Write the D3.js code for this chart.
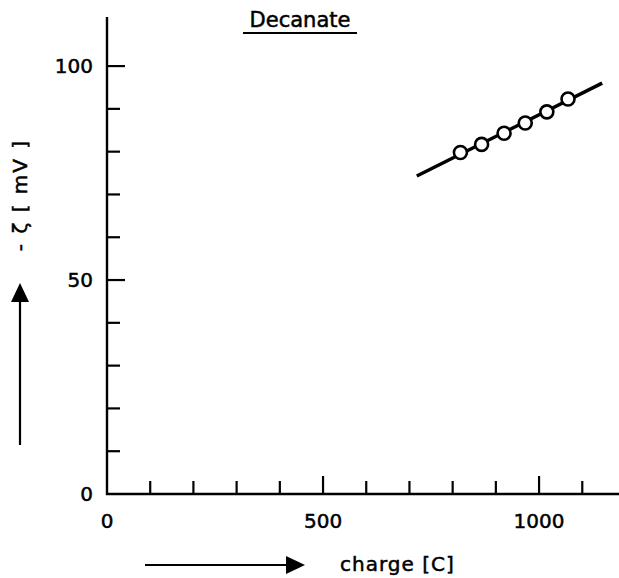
<!DOCTYPE html>
<html>
<head>
<meta charset="utf-8">
<script src="https://cdn.jsdelivr.net/npm/d3@7"></script>
<style>
  body { margin: 0; background: #fff; }
  text { font-family: "DejaVu Sans", sans-serif; fill: #000; stroke: #000; stroke-width: 0.5px; }
</style>
</head>
<body>
<svg id="chart" width="619" height="578"></svg>
<script>
// measured points (charge in C, -zeta in mV)
const charge = [818, 867, 919, 968, 1018, 1067];
const zeta = [79.8, 81.7, 84.3, 86.7, 89.3, 92.3];
// fitted line ends
const fitCharge = [717, 1146];
const fitZeta = [74.3, 96.0];

const xMajor = [500, 1000];
const xMinor = [100, 200, 300, 400, 600, 700, 800, 900, 1100];
const xLabels = [0, 500, 1000];
const yMajor = [50, 100];
const yMinor = [10, 20, 30, 40, 60, 70, 80, 90];
const yLabels = [0, 50, 100];

const svg = d3.select('#chart');

const x = d3.scaleLinear().domain([0, 1185]).range([107, 619]);
const y = d3.scaleLinear().domain([0, 111]).range([494, 19]);

const g = svg.append('g');

// axes lines
g.append('line')
    .attr('x1', x(0)).attr('x2', x(0))
    .attr('y1', y(0) + 1).attr('y2', y(111) - 2)
    .attr('stroke', '#000').attr('stroke-width', 2.4);
g.append('line')
    .attr('x1', x(0) - 1).attr('x2', 619)
    .attr('y1', y(0)).attr('y2', y(0))
    .attr('stroke', '#000').attr('stroke-width', 2.4);

// x ticks point up
g.selectAll('.xmaj').data(xMajor).join('line')
    .attr('x1', d => x(d)).attr('x2', d => x(d))
    .attr('y1', y(0)).attr('y2', y(0) - 18)
    .attr('stroke', '#000').attr('stroke-width', 2.2);
g.selectAll('.xmin').data(xMinor).join('line')
    .attr('x1', d => x(d)).attr('x2', d => x(d))
    .attr('y1', y(0)).attr('y2', y(0) - 13)
    .attr('stroke', '#000').attr('stroke-width', 2.2);

// y ticks point right
g.selectAll('.ymaj').data(yMajor).join('line')
    .attr('y1', d => y(d)).attr('y2', d => y(d))
    .attr('x1', x(0)).attr('x2', x(0) + 18)
    .attr('stroke', '#000').attr('stroke-width', 2.2);
g.selectAll('.ymin').data(yMinor).join('line')
    .attr('y1', d => y(d)).attr('y2', d => y(d))
    .attr('x1', x(0)).attr('x2', x(0) + 13)
    .attr('stroke', '#000').attr('stroke-width', 2.2);

// tick labels
g.selectAll('.xl').data(xLabels).join('text')
    .attr('x', d => x(d)).attr('y', 528)
    .attr('text-anchor', 'middle')
    .style('font-size', '20px')
    .text(d => d);
g.selectAll('.yl').data(yLabels).join('text')
    .attr('x', 93).attr('y', d => y(d) + 7)
    .attr('text-anchor', 'end')
    .style('font-size', '20px')
    .text(d => d);

// fitted line
g.append('line')
    .attr('x1', x(fitCharge[0])).attr('y1', y(fitZeta[0]))
    .attr('x2', x(fitCharge[1])).attr('y2', y(fitZeta[1]))
    .attr('stroke', '#000').attr('stroke-width', 3.5);

// data circles
g.selectAll('.pt').data(charge).join('circle')
    .attr('cx', d => x(d)).attr('cy', (d, i) => y(zeta[i]))
    .attr('r', 6.5)
    .attr('fill', '#fff').attr('stroke', '#000').attr('stroke-width', 2.6);

// title
svg.append('text')
    .attr('x', 300).attr('y', 27)
    .attr('text-anchor', 'middle')
    .style('font-size', '21px')
    .text('Decanate');
svg.append('line')
    .attr('x1', 243).attr('x2', 357).attr('y1', 33).attr('y2', 33)
    .attr('stroke', '#000').attr('stroke-width', 2);

// y label and arrow
svg.append('text')
    .attr('transform', 'translate(27,195) rotate(-90)')
    .attr('text-anchor', 'middle')
    .style('font-size', '20px').style('letter-spacing', '2px')
    .text('- ζ  [ mV ]');
svg.append('line')
    .attr('x1', 20).attr('x2', 20).attr('y1', 445).attr('y2', 298)
    .attr('stroke', '#000').attr('stroke-width', 2.2);
svg.append('path')
    .attr('d', 'M20,283 L11,302 L29,302 Z')
    .attr('fill', '#000');

// x label and arrow
svg.append('text')
    .attr('x', 340).attr('y', 571)
    .style('font-size', '20px').style('letter-spacing', '1px')
    .text('charge  [C]');
svg.append('line')
    .attr('x1', 145).attr('x2', 290).attr('y1', 565).attr('y2', 565)
    .attr('stroke', '#000').attr('stroke-width', 2.2);
svg.append('path')
    .attr('d', 'M305,565 L286,556 L286,574 Z')
    .attr('fill', '#000');
</script>
</body>
</html>
